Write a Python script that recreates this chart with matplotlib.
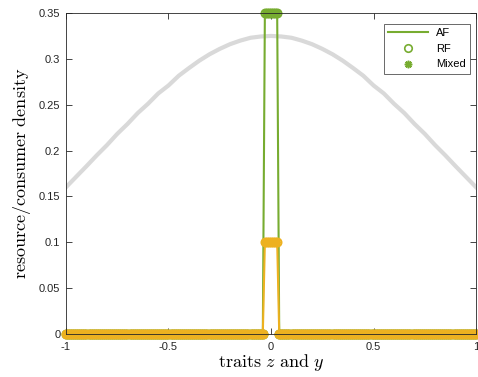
import numpy as np
import matplotlib
matplotlib.use('Agg')
import matplotlib.pyplot as plt

# trait grid
x = np.round(np.arange(-100, 101) * 0.01, 2)

# resource density
res_x = [-1.0, -0.95, -0.9, -0.85, -0.8, -0.75, -0.7, -0.65, -0.6, -0.55, -0.5,
         -0.45, -0.4, -0.35, -0.3, -0.25, -0.2, -0.15, -0.1, -0.05, 0.0,
         0.05, 0.1, 0.15, 0.2, 0.25, 0.3, 0.35, 0.4, 0.45, 0.5,
         0.55, 0.6, 0.65, 0.7, 0.75, 0.8, 0.85, 0.9, 0.95, 1.0]
res_y = [0.160, 0.1715, 0.183, 0.1948, 0.206, 0.2182, 0.229, 0.2409, 0.251, 0.2623, 0.271,
         0.2816, 0.290, 0.298, 0.305, 0.3109, 0.316, 0.3199, 0.323, 0.3244, 0.325,
         0.3244, 0.323, 0.3199, 0.316, 0.3109, 0.305, 0.298, 0.290, 0.2816, 0.271,
         0.2623, 0.251, 0.2409, 0.229, 0.2182, 0.206, 0.1948, 0.183, 0.1715, 0.160]

# consumer densities: zero except on the narrow spike
spike_x = [-0.03, -0.02, -0.01, 0.0, 0.01, 0.02, 0.03]
green_spike = [0.35, 0.35, 0.35, 0.35, 0.35, 0.35, 0.35]
yellow_spike = [0.1, 0.1, 0.1, 0.1, 0.1, 0.1, 0.1]

green_y = np.zeros(len(x))
yellow_y = np.zeros(len(x))
for sx, g, yv in zip(spike_x, green_spike, yellow_spike):
    i = int(np.argmin(np.abs(x - sx)))
    green_y[i] = g
    yellow_y[i] = yv

green = '#77AC30'
yellow = '#EDB120'
asterisk = (8, 2, 0)

plt.rcParams['font.family'] = ['Liberation Sans', 'DejaVu Sans']
plt.rcParams['mathtext.fontset'] = 'cm'

fig = plt.figure(figsize=(4.78, 3.77), dpi=100)
ax = fig.add_axes([0.138, 0.114, 0.858, 0.8515])

ax.plot(res_x, res_y, color='#D9D9D9', lw=3, zorder=1)

# green (in legend)
l1, = ax.plot(x, green_y, color=green, lw=1.5, label='AF', clip_on=False)
l2, = ax.plot(x, green_y, 'o', color=green, mfc='none', ms=6, mew=1.2,
              label='RF', clip_on=False)
l3, = ax.plot(x, green_y, ls='none', marker=asterisk, color=green, ms=6,
              mew=1.2, label='Mixed', clip_on=False)

# yellow (not in legend)
ax.plot(x, yellow_y, color=yellow, lw=1.5, clip_on=False)
ax.plot(x, yellow_y, 'o', color=yellow, mfc='none', ms=6, mew=1.2, clip_on=False)
ax.plot(x, yellow_y, ls='none', marker=asterisk, color=yellow, ms=6, mew=1.2,
        clip_on=False)

ax.set_xlim(-1, 1)
ax.set_ylim(0, 0.35)
ax.set_xticks([-1, -0.5, 0, 0.5, 1])
ax.set_xticklabels(['-1', '-0.5', '0', '0.5', '1'])
ax.set_yticks([0, 0.05, 0.1, 0.15, 0.2, 0.25, 0.3, 0.35])
ax.set_yticklabels(['0', '0.05', '0.1', '0.15', '0.2', '0.25', '0.3', '0.35'])
ax.tick_params(direction='in', top=True, right=True, labelsize=8, length=4,
               width=0.6, colors='#262626')
ax.tick_params(axis='x', pad=6)
ax.tick_params(axis='y', pad=4)
for s in ax.spines.values():
    s.set_linewidth(0.6)
    s.set_color('#262626')

ax.set_xlabel(r'$\mathrm{traits}\ z\ \mathrm{and}\ y$', fontsize=13, labelpad=0)
ax.set_ylabel(r'$\mathrm{resource/consumer\ density}$', fontsize=13, labelpad=4)

leg = ax.legend(handles=[l1, l2, l3], loc='upper right', fontsize=8,
                frameon=True, fancybox=False, edgecolor='#262626',
                bbox_to_anchor=(0.985, 0.966), borderaxespad=0,
                handlelength=3.6, markerscale=0.9,
                borderpad=0.4, labelspacing=0.5, handletextpad=0.7)
leg.get_frame().set_linewidth(0.6)
leg.set_zorder(5)

fig.savefig('out.png', dpi=100)
